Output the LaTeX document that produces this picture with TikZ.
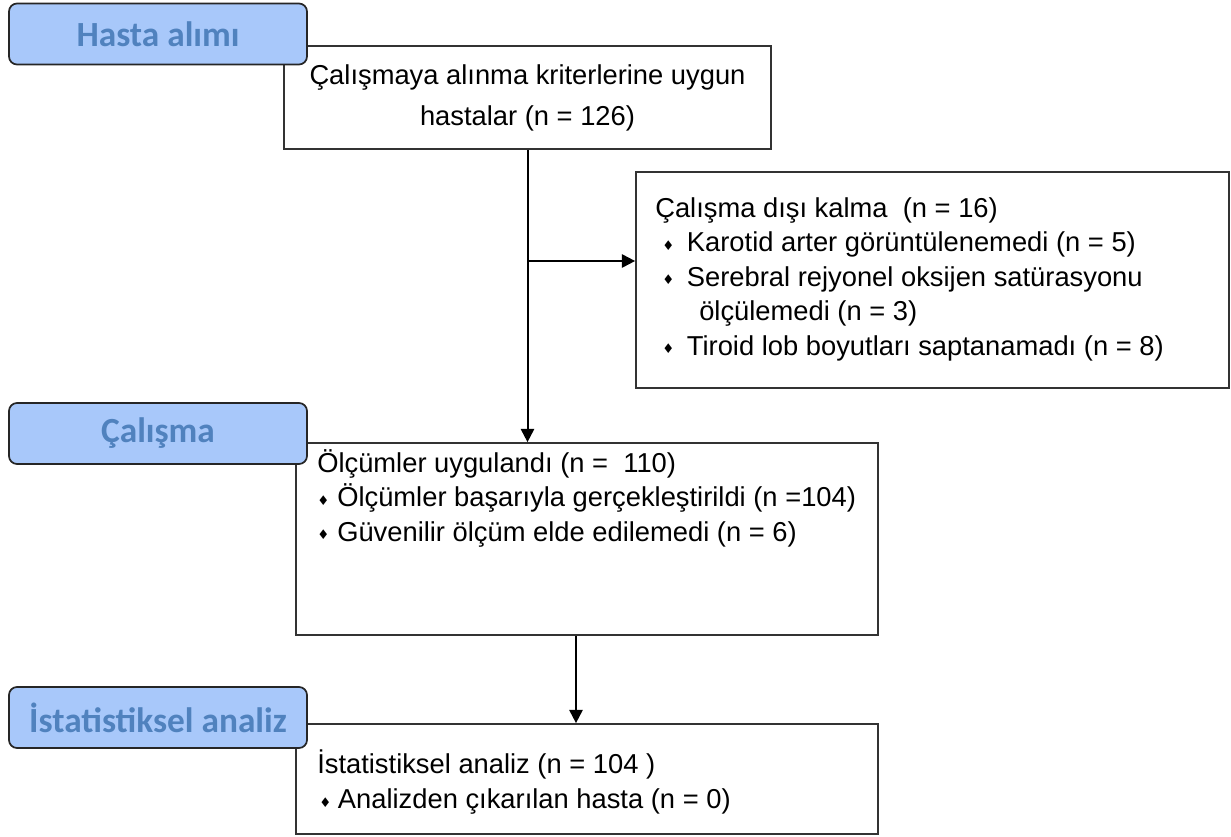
\documentclass[tikz,border=0pt]{standalone}
\usepackage{fontspec}
\setmainfont{Liberation Sans}
\newfontfamily\phasefont{Carlito}
\newfontfamily\symfont{DejaVu Sans}
\usetikzlibrary{arrows.meta}
\definecolor{phasefill}{RGB}{168,200,250}
\definecolor{phasetext}{RGB}{80,130,190}
\newcommand{\dia}{\raisebox{1pt}{\symfont\fontsize{10}{10}\selectfont ♦}}
\newcommand{\blt}[1]{\makebox[#1][l]{\dia}}
\tikzset{
  box/.style={draw=black!80, line width=1.3pt, inner sep=0pt},
  phase/.style={draw=black!85, line width=1.3pt, rounded corners=6pt,
    fill=phasefill, text=phasetext,
    font=\phasefont\bfseries\fontsize{26.5}{30}\selectfont,
    minimum width=223.5pt, minimum height=45.75pt},
  body/.style={inner sep=0pt, align=left, font=\fontsize{20.5}{25.9}\selectfont},
  arr/.style={line width=1.5pt, -{Triangle[length=10pt,width=10pt]}}
}
\begin{document}
\begin{tikzpicture}[x=0.75pt, y=-0.75pt]
  \useasboundingbox (0,0) rectangle (1231,836);
  % frames
  \node[box, minimum width=365.25pt, minimum height=77.25pt, align=center,
    font=\fontsize{20.5}{30.75}\selectfont] (kriter) at (527.5,97.5)
    {Çalışmaya alınma kriterlerine uygun\\hastalar (n = 126)};
  \node[box, minimum width=444.75pt, minimum height=162pt] (dislama) at (932.5,280) {};
  \node[box, minimum width=436.5pt, minimum height=144pt] (olcum) at (587,539) {};
  \node[box, minimum width=436.5pt, minimum height=82.5pt] (analiz) at (587,779) {};
  % texts inside frames
  \node[body, anchor=north west] (dislamatext) at (655,197)
    {Çalışma dışı kalma\ \ (n = 16)\\
     \hspace*{5.25pt}\blt{18.5pt}Karotid arter görüntülenemedi (n = 5)\\
     \hspace*{5.25pt}\blt{18.5pt}Serebral rejyonel oksijen satürasyonu\\
     \hspace*{33pt}ölçülemedi (n = 3)\\
     \hspace*{5.25pt}\blt{18.5pt}Tiroid lob boyutları saptanamadı (n = 8)};
  \node[body, anchor=north west] (olcumtext) at (317,449)
    {Ölçümler uygulandı (n =\ \ 110)\\
     \blt{15pt}Ölçümler başarıyla gerçekleştirildi (n =104)\\
     \blt{15pt}Güvenilir ölçüm elde edilemedi (n = 6)};
  \node[body, anchor=north west] (analiztext) at (317,750)
    {İstatistiksel analiz (n = 104 )\\
     \hspace*{1.5pt}\blt{14pt}Analizden çıkarılan hasta (n = 0)};
  % connectors
  \coordinate (split) at (527.5,261);
  \coordinate (drop) at (576,0);
  \draw[arr] (kriter.south) -- (kriter.south |- olcum.north);
  \draw[arr] (split) -- (split -| dislama.west);
  \draw[arr] (drop |- olcum.south) -- (drop |- analiz.north);
  % phase labels
  \node[phase] (alim) at (158,34) {Hasta alımı};
  \node[phase] (calisma) at (158,433.5) {Çalışma};
  \node[phase] (istat) at (158,717.5) {İstatistiksel analiz};
\end{tikzpicture}
\end{document}
